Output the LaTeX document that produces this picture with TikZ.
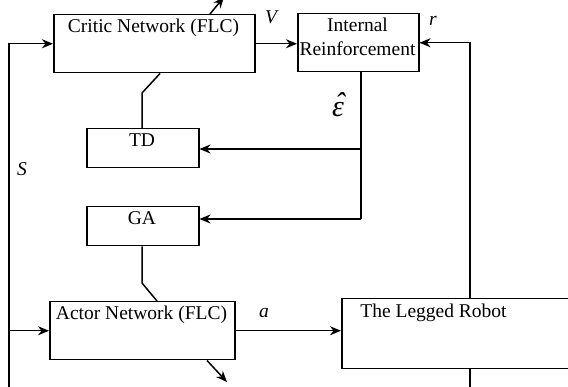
\documentclass[tikz,border=0pt]{standalone}
\usepackage{fontspec}
\setmainfont{Liberation Serif}
\usetikzlibrary{arrows.meta}
\begin{document}
\begin{tikzpicture}[x=1pt,y=-1pt,
  every node/.style={font=\fontsize{19.5}{24}\selectfont},
  block/.style={draw,line width=1.5pt,inner sep=0pt,anchor=north west},
  txt/.style={anchor=base,inner sep=0pt},
  wire/.style={line width=1.5pt},
  arr/.style={wire,-{Stealth[length=11pt,width=9pt,inset=3.5pt]}}]
\useasboundingbox (0,0) rectangle (568,387);
\clip (0,0) rectangle (568,387);

% blocks
\node[block,minimum width=201pt,minimum height=58pt] (critic) at (53,14) {};
\node[block,minimum width=121pt,minimum height=58pt] (internal) at (297,13) {};
\node[block,minimum width=112pt,minimum height=39pt] (td) at (86,128) {};
\node[block,minimum width=112pt,minimum height=39pt] (ga) at (86,206) {};
\node[block,minimum width=185pt,minimum height=58pt] (actor) at (49,301) {};
\node[block,minimum width=260pt,minimum height=70pt] (robot) at (341,298) {};

% block captions
\node[txt] (criticT) at (153.5,33) {Critic Network (FLC)};
\node[txt] (internalT1) at (357.5,32) {Internal};
\node[txt] (internalT2) at (357.5,56) {Reinforcement};
\node[txt] (tdT) at (142,147) {TD};
\node[txt] (gaT) at (142,225) {GA};
\node[txt] (actorT) at (141.5,320) {Actor Network (FLC)};
\node[txt] (robotT) at (433.5,318) {The Legged Robot};

% signal labels
\node[txt] (lV) at (272,24) {\textit{V}};
\node[txt] (lr) at (433,26) {\textit{r}};
\node[txt,font=\fontsize{30}{30}\selectfont\itshape] (lE) at (338,117)
  {\ooalign{ε\cr\hidewidth\kern0.12em\raisebox{0.1em}{ˆ}\hidewidth\cr}};
\node[txt] (lS) at (22,176) {\textit{S}};
\node[txt] (la) at (264,318) {\textit{a}};

% helper points
\coordinate (sbot) at (9,390);
\coordinate (tap1) at (361,149);
\coordinate (tap2) at (361,219);
\coordinate (ctop) at (224,-3);
\coordinate (abot) at (227,382);
\coordinate (rbot) at (470,390);

% state feedback
\draw[arr] (sbot) |- (critic.west);
\draw[arr] (sbot |- actor.west) -- (actor.west);

% critic output
\draw[arr] (critic.east) -- (internal.west |- critic.east);
\draw[arr] (critic.north -| 210,0) -- (ctop);

% reinforcement from robot
\draw[arr] (robot.north -| rbot) |- (internal.east);
\draw[wire] (robot.south -| rbot) -- (rbot);

% internal reinforcement to TD and GA
\draw[wire] (internal.south -| tap1) -- (tap2);
\draw[arr] (tap1) -- (td.east |- tap1);
\draw[arr] (tap2) -- (ga.east |- tap2);

% critic to TD, GA to actor
\draw[wire] (critic.south -| 160,0) -- (142,93) -- (td.north -| 142,0);
\draw[wire] (ga.south -| 142,0) -- (142,283) -- (actor.north -| 157,0);

% actor output
\draw[arr] (actor.east) -- (robot.west |- actor.east);
\draw[arr] (actor.south -| 207,0) -- (abot);
\end{tikzpicture}
\end{document}
